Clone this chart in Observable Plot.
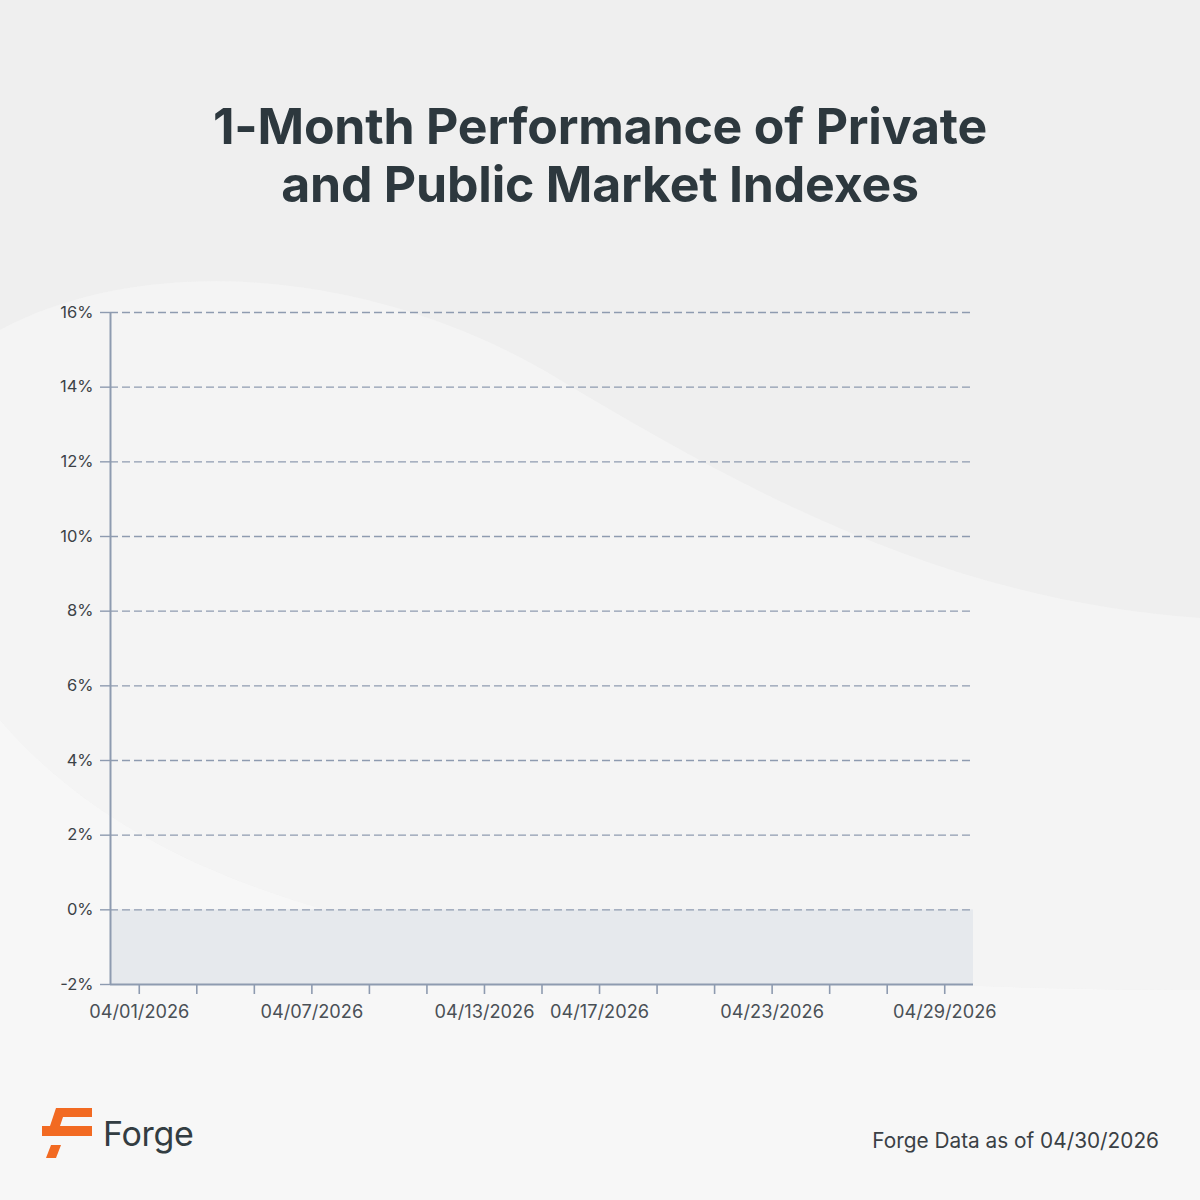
<!DOCTYPE html>
<html>
<head>
<meta charset="utf-8">
<script src="https://cdn.jsdelivr.net/npm/d3@7"></script>
<script src="https://cdn.jsdelivr.net/npm/@observablehq/plot@0.6"></script>
<style>
  html, body { margin: 0; padding: 0; }
  body {
    width: 1200px; height: 1200px; position: relative; overflow: hidden;
    background: #f1f1f1; font-family: Inter, "Noto Sans", sans-serif;
  }
  #bg { position: absolute; left: 0; top: 0; }
  #title {
    position: absolute; left: 0; top: 97px; width: 1200px; text-align: center;
    font-size: 50px; font-weight: 700; line-height: 58px; color: #2d383e;
    letter-spacing: -0.2px;
  }
  #chart { position: absolute; left: 0; top: 270px; }
  #logo { position: absolute; left: 42px; top: 1108px; display: flex; align-items: center; }
  #logo span { font-size: 34px; color: #333d42; margin-left: 11px; letter-spacing: -0.3px; }
  #source {
    position: absolute; right: 41px; top: 1128px; font-size: 20.8px; color: #3a4045;
  }
</style>
</head>
<body>
<svg id="bg" width="1200" height="1200">
  <path d="M0,330 C150,250 380,270 560,380 C760,500 950,600 1200,618 L1200,0 L0,0 Z" fill="#efefef"/>
  <path d="M0,720 C120,860 320,930 600,960 C850,985 1050,990 1200,990 L1200,1200 L0,1200 Z" fill="#f7f7f7"/>
  <path d="M0,330 C150,250 380,270 560,380 C760,500 950,600 1200,618 L1200,990 C1050,990 850,985 600,960 C320,930 120,860 0,720 Z" fill="#f4f4f4"/>
</svg>
<div id="title">1-Month Performance of Private<br>and Public Market Indexes</div>
<div id="chart"></div>
<div id="logo">
  <svg width="50" height="50" viewBox="0 0 50 50">
    <polygon points="14,0 50,0 50,9 18,9" fill="#f26a22"/>
    <polygon points="0,18 50,18 50,28 0,28" fill="#f26a22"/>
    <polygon points="9,37 19,37 14,50 4,50" fill="#f26a22"/>
    <polygon points="14,0 24,0 18,18 8,18" fill="#f26a22"/>
  </svg>
  <span>Forge</span>
</div>
<div id="source">Forge Data as of 04/30/2026</div>
<script>
// ── data ─────────────────────────────────────────────
const X_DOMAIN     = ["2026-03-31", "2026-04-30"];
const X_TICKS      = ["2026-04-01", "2026-04-03", "2026-04-05", "2026-04-07", "2026-04-09",
                      "2026-04-11", "2026-04-13", "2026-04-15", "2026-04-17", "2026-04-19",
                      "2026-04-21", "2026-04-23", "2026-04-25", "2026-04-27", "2026-04-29"];
const X_LABELED    = ["2026-04-01", "2026-04-07", "2026-04-13", "2026-04-17", "2026-04-23", "2026-04-29"];
const Y_TICKS      = [-2, 0, 2, 4, 6, 8, 10, 12, 14, 16];
const NEGATIVE_ZONE = [-2, 0];

// ── chart ────────────────────────────────────────────
const parse = d3.utcParse("%Y-%m-%d");
const fmt   = d3.utcFormat("%m/%d/%Y");
const key   = d3.utcFormat("%Y-%m-%d");
const xDom  = X_DOMAIN.map(parse);
const labeled = new Set(X_LABELED);

const AXIS = "#8e9bb0";

const chart = Plot.plot({
  width: 1200,
  height: 760,
  marginLeft: 110,
  marginRight: 227,
  marginTop: 42,
  marginBottom: 46,
  style: { background: "transparent", fontFamily: "Inter, sans-serif" },
  x: { type: "utc", domain: xDom },
  y: { domain: [Y_TICKS[0], Y_TICKS[Y_TICKS.length - 1]] },
  marks: [
    Plot.rect([{ x1: xDom[0], x2: xDom[1], y1: NEGATIVE_ZONE[0], y2: NEGATIVE_ZONE[1] }],
      { x1: "x1", x2: "x2", y1: "y1", y2: "y2", fill: "#e6e9ed" }),
    Plot.ruleY(Y_TICKS.slice(1), { stroke: AXIS, strokeWidth: 1.4, strokeDasharray: "8,4" }),
    Plot.axisY(Y_TICKS, {
      tickFormat: d => (d < 0 ? "-" + Math.abs(d) : d) + "%", tickSize: 10, tickPadding: 7,
      stroke: AXIS, strokeWidth: 1.4, fill: "#3c4247", fontSize: 16.5, fontVariant: "normal", label: null
    }),
    Plot.axisX(X_TICKS.map(parse), {
      tickFormat: d => labeled.has(key(d)) ? fmt(d) : "",
      tickSize: 10, tickPadding: 11,
      stroke: AXIS, strokeWidth: 1.6, fill: "#4a5056", fontSize: 18.2, fontVariant: "normal", label: null
    }),
    Plot.ruleX([xDom[0]], { stroke: AXIS, strokeWidth: 2 }),
    Plot.ruleY([Y_TICKS[0]], { stroke: AXIS, strokeWidth: 2 })
  ]
});

document.getElementById("chart").appendChild(chart);
</script>
</body>
</html>
